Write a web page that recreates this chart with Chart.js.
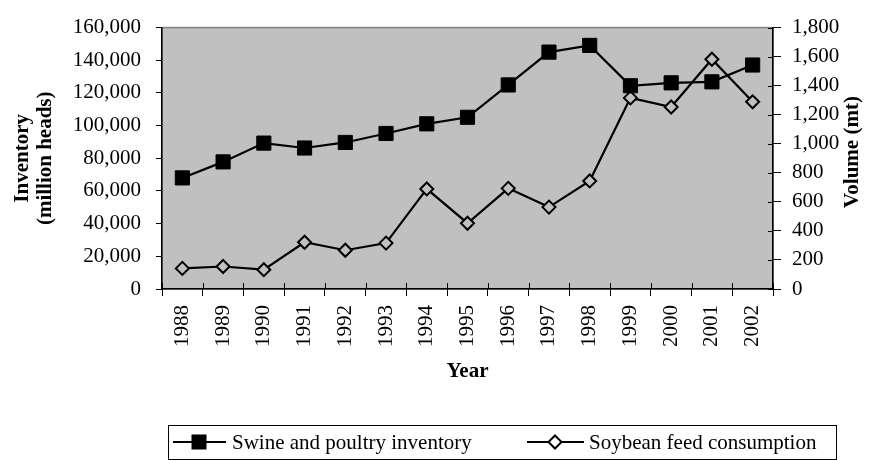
<!DOCTYPE html>
<html>
<head>
<meta charset="utf-8">
<script src="https://cdn.jsdelivr.net/npm/chart.js@4/dist/chart.umd.min.js"></script>
<style>
html,body{margin:0;padding:0;background:#fff;}
#wrap{width:870px;height:460px;}
</style>
</head>
<body>
<div id="wrap"><canvas id="c" width="870" height="460"></canvas></div>
<script>
const years = ['1988','1989','1990','1991','1992','1993','1994','1995','1996','1997','1998','1999','2000','2001','2002'];
const swineInventory = [68000, 77800, 89300, 86300, 89700, 95200, 101100, 105100, 124900, 145000, 149100, 124400, 126200, 126800, 137100];
const soybeanFeed = [142, 155, 133, 322, 267, 316, 689, 453, 693, 564, 744, 1316, 1253, 1582, 1289];
const leftTicks = [0, 20000, 40000, 60000, 80000, 100000, 120000, 140000, 160000];
const rightTicks = [0, 200, 400, 600, 800, 1000, 1200, 1400, 1600, 1800];
const seriesNames = ['Swine and poultry inventory', 'Soybean feed consumption'];
const axisTitles = {left: ['Inventory', '(million heads)'], right: 'Volume (mt)', x: 'Year'};

const FONT = "'Liberation Serif', 'Times New Roman', serif";
const PLOT_BG = '#C0C0C0';
const fmt = v => Number(v).toLocaleString('en-US');

const bgPlugin = {
  id: 'plotBg',
  beforeDraw(chart) {
    const {ctx, chartArea: a} = chart;
    ctx.save();
    ctx.fillStyle = PLOT_BG;
    ctx.fillRect(a.left, a.top, a.right - a.left, a.bottom - a.top);
    ctx.strokeStyle = '#808080';
    ctx.lineWidth = 1.5;
    ctx.strokeRect(a.left, a.top, a.right - a.left, a.bottom - a.top);
    ctx.restore();
  }
};

const extrasPlugin = {
  id: 'extras',
  afterDraw(chart) {
    const {ctx} = chart;
    const y1 = chart.scales.y1;
    const x = chart.scales.x;
    ctx.save();
    // inner parts of crossing ticks
    ctx.strokeStyle = '#000';
    ctx.lineWidth = 1;
    rightTicks.forEach(v => {
      const py = Math.round(y1.getPixelForValue(v)) + 0.5;
      ctx.beginPath(); ctx.moveTo(y1.left - 5, py); ctx.lineTo(y1.left, py); ctx.stroke();
    });
    const half = (x.getPixelForValue(1) - x.getPixelForValue(0)) / 2;
    for (let i = 0; i <= years.length; i++) {
      const px = Math.round(x.getPixelForValue(0) - half + i * 2 * half) + 0.5;
      ctx.beginPath(); ctx.moveTo(px, x.top - 6); ctx.lineTo(px, x.top); ctx.stroke();
    }
    ctx.restore();

    // right axis title (reads bottom to top)
    ctx.save();
    ctx.font = "bold 21px " + FONT;
    ctx.fillStyle = '#000';
    ctx.textAlign = 'center';
    ctx.textBaseline = 'middle';
    ctx.translate(853, 152);
    ctx.rotate(-Math.PI / 2);
    ctx.fillText(axisTitles.right, 0, 0);
    ctx.restore();

    // legend
    ctx.save();
    ctx.strokeStyle = '#000';
    ctx.lineWidth = 1;
    ctx.strokeRect(168.5, 425.5, 668, 34);
    const ly = 442;
    ctx.lineWidth = 2;
    ctx.beginPath(); ctx.moveTo(173, ly); ctx.lineTo(226, ly); ctx.stroke();
    ctx.fillStyle = '#000';
    ctx.fillRect(199 - 7.5, ly - 7.5, 15, 15);
    ctx.beginPath(); ctx.moveTo(527, ly); ctx.lineTo(584, ly); ctx.stroke();
    ctx.beginPath();
    ctx.moveTo(555, ly - 6.5); ctx.lineTo(561.5, ly); ctx.lineTo(555, ly + 6.5); ctx.lineTo(548.5, ly); ctx.closePath();
    ctx.fillStyle = '#fff'; ctx.fill(); ctx.stroke();
    ctx.font = "21px " + FONT;
    ctx.fillStyle = '#000';
    ctx.textAlign = 'left';
    ctx.textBaseline = 'middle';
    ctx.fillText(seriesNames[0], 232, ly + 1);
    ctx.fillText(seriesNames[1], 589, ly + 1);
    ctx.restore();
  }
};

new Chart(document.getElementById('c'), {
  type: 'line',
  data: {
    labels: years,
    datasets: [
      {
        label: seriesNames[0],
        data: swineInventory,
        yAxisID: 'y',
        borderColor: '#000',
        borderWidth: 2.2,
        pointStyle: 'rect',
        pointRadius: 10,
        pointBackgroundColor: '#000',
        pointBorderColor: '#000',
        pointBorderWidth: 1,
        tension: 0
      },
      {
        label: seriesNames[1],
        data: soybeanFeed,
        yAxisID: 'y1',
        borderColor: '#000',
        borderWidth: 2.2,
        pointStyle: 'rectRot',
        pointRadius: 6.5,
        pointBackgroundColor: PLOT_BG,
        pointBorderColor: '#000',
        pointBorderWidth: 2,
        tension: 0
      }
    ]
  },
  options: {
    responsive: false,
    animation: false,
    events: [],
    layout: {padding: {top: 19, left: 0, right: 0, bottom: 0}},
    plugins: {legend: {display: false}, tooltip: {enabled: false}, title: {display: false}},
    scales: {
      x: {
        type: 'category',
        offset: true,
        grid: {drawOnChartArea: false, drawTicks: true, tickLength: 7, color: '#000', offset: true, lineWidth: 1},
        border: {color: '#000', width: 1.5},
        ticks: {color: '#000', font: {family: FONT, size: 21}, minRotation: 90, maxRotation: 90, autoSkip: false, padding: 9},
        title: {display: true, text: axisTitles.x, color: '#000', font: {family: FONT, size: 21, weight: 'bold'}, padding: {top: 0, bottom: 76}},
        afterFit(s) { s.height = 171; }
      },
      y: {
        position: 'left',
        min: 0, max: 160000,
        afterBuildTicks(s) { s.ticks = leftTicks.map(v => ({value: v})); },
        grid: {drawOnChartArea: false, drawTicks: true, tickLength: 6, color: '#000', lineWidth: 1},
        border: {color: '#000', width: 1.5},
        ticks: {color: '#000', font: {family: FONT, size: 21}, padding: 15, callback: v => fmt(v)},
        title: {display: true, text: axisTitles.left, color: '#000', font: {family: FONT, size: 21, weight: 'bold', lineHeight: 1.1}, padding: {top: 11, bottom: 0}},
        afterFit(s) { s.width = 162; }
      },
      y1: {
        position: 'right',
        min: 0, max: 1800,
        afterBuildTicks(s) { s.ticks = rightTicks.map(v => ({value: v})); },
        grid: {drawOnChartArea: false, drawTicks: true, tickLength: 8, color: '#000', lineWidth: 1},
        border: {color: '#000', width: 1.5},
        ticks: {color: '#000', font: {family: FONT, size: 21}, padding: 11, callback: v => fmt(v)},
        afterFit(s) { s.width = 97; }
      }
    }
  },
  plugins: [bgPlugin, extrasPlugin]
});
</script>
</body>
</html>
